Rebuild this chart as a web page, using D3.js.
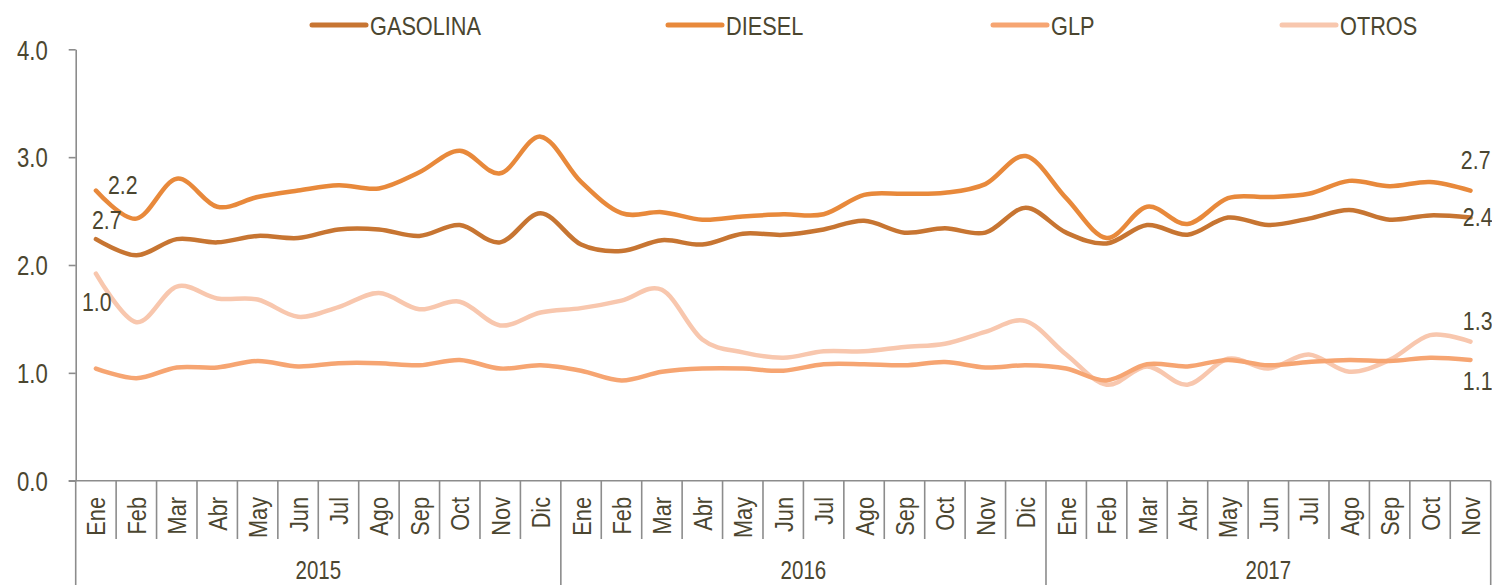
<!DOCTYPE html>
<html>
<head>
<meta charset="utf-8">
<script src="https://cdn.jsdelivr.net/npm/d3@7"></script>
<style>
  html, body { margin: 0; padding: 0; background: #ffffff; }
  svg { display: block; }
  text { font-family: "Liberation Sans", Arial, sans-serif; fill: #4b4630; }
</style>
</head>
<body>
<svg id="chart" width="1492" height="585"></svg>
<script>
const months = ["Ene","Feb","Mar","Abr","May","Jun","Jul","Ago","Sep","Oct","Nov","Dic",
                "Ene","Feb","Mar","Abr","May","Jun","Jul","Ago","Sep","Oct","Nov","Dic",
                "Ene","Feb","Mar","Abr","May","Jun","Jul","Ago","Sep","Oct","Nov"];
const years = ["2015","2016","2017"];
const yearStart = [0, 12, 24];
const yearEnd = [12, 24, 35];
const seriesNames = ["GASOLINA","DIESEL","GLP","OTROS"];
const seriesColors = ["#c77532","#e8893b","#f6a572","#f8c7ae"];
const gasolina = [2.24,2.09,2.24,2.21,2.27,2.25,2.33,2.33,2.27,2.37,2.21,2.48,
                  2.19,2.13,2.23,2.19,2.29,2.28,2.33,2.41,2.30,2.34,2.30,2.53,
                  2.30,2.20,2.37,2.28,2.44,2.37,2.43,2.51,2.42,2.46,2.44];
const diesel =   [2.69,2.43,2.80,2.54,2.63,2.69,2.74,2.71,2.86,3.06,2.85,3.19,
                  2.77,2.48,2.49,2.42,2.45,2.47,2.47,2.65,2.66,2.67,2.75,3.01,
                  2.62,2.25,2.54,2.38,2.62,2.63,2.66,2.78,2.73,2.77,2.69];
const glp =      [1.04,0.95,1.05,1.05,1.11,1.06,1.09,1.09,1.07,1.12,1.04,1.07,
                  1.02,0.93,1.01,1.04,1.04,1.02,1.08,1.08,1.07,1.10,1.05,1.07,
                  1.04,0.93,1.08,1.06,1.12,1.07,1.10,1.12,1.11,1.14,1.12];
const otros =    [1.92,1.47,1.80,1.69,1.68,1.52,1.61,1.74,1.59,1.66,1.44,1.56,
                  1.60,1.67,1.77,1.31,1.19,1.14,1.20,1.20,1.24,1.27,1.38,1.48,
                  1.17,0.89,1.06,0.89,1.13,1.04,1.17,1.01,1.12,1.35,1.29];
const yTicks = [0,1,2,3,4];
// data labels: [series index, point index, text, dx, dy, anchor]
const dataLabels = [
  [1, 0, "2.2", 12, 3, "start"],
  [0, 0, "2.7", -4, -10, "start"],
  [3, 0, "1.0", -14, 37, "start"],
  [1, 34, "2.7", 20, -22, "end"],
  [0, 34, "2.4", 22, 8, "end"],
  [3, 34, "1.3", 22, -12, "end"],
  [2, 34, "1.1", 22, 30, "end"]
];

(function () {
const series = [gasolina, diesel, glp, otros];
const svg = d3.select("#chart");
const axisColor = "#8c8c8c";
const narrow = 0.82; // emulate a condensed face

const pLeft = 75.7, pRight = 1490.7, pTop = 49.3, pBottom = 480.7;
const x = d3.scaleBand().domain(d3.range(months.length)).range([pLeft, pRight]).padding(0);
const y = d3.scaleLinear().domain([0, 4]).range([pBottom, pTop]);

// Y axis
const yAxis = svg.append("g").attr("transform", `translate(${pLeft},0)`)
  .call(d3.axisLeft(y).tickValues(yTicks).tickFormat(d3.format(".1f")).tickSize(7).tickSizeOuter(0));
yAxis.select(".domain").attr("stroke", axisColor).attr("stroke-width", 1.6);
yAxis.selectAll(".tick line").attr("stroke", axisColor).attr("stroke-width", 1.6);
yAxis.selectAll(".tick text").attr("x", 0).attr("dy", "0.36em")
  .attr("transform", `translate(-28,0) scale(${narrow},1)`)
  .attr("font-size", 27).attr("font-family", '"Liberation Sans", Arial, sans-serif').attr("fill", "#4b4630");

// X axis baseline
svg.append("line").attr("x1", pLeft - 7).attr("x2", pRight).attr("y1", pBottom).attr("y2", pBottom)
  .attr("stroke", axisColor).attr("stroke-width", 1.6);

// month separators
const edges = d3.range(months.length + 1);
svg.append("g").selectAll("line").data(edges).join("line")
  .attr("x1", i => i < months.length ? x(i) : pRight)
  .attr("x2", i => i < months.length ? x(i) : pRight)
  .attr("y1", pBottom)
  .attr("y2", i => (yearStart.includes(i) || i === months.length) ? 585 : 539)
  .attr("stroke", axisColor).attr("stroke-width", 1.6);

// month labels
svg.append("g").selectAll("text").data(months).join("text")
  .attr("transform", (d, i) => `translate(${x(i) + x.bandwidth() / 2},497) rotate(-90) scale(${narrow},1)`)
  .attr("text-anchor", "end").attr("dy", "0.36em")
  .attr("font-size", 26.5).text(d => d);

// year labels
svg.append("g").selectAll("text").data(years).join("text")
  .attr("transform", (d, i) => `translate(${(x(yearStart[i]) + (yearEnd[i] < months.length ? x(yearEnd[i]) : pRight)) / 2},579) scale(${narrow},1)`)
  .attr("text-anchor", "middle").attr("font-size", 25).text(d => d);

// lines
const line = d3.line().x((d, i) => x(i) + x.bandwidth() / 2).y(d => y(d)).curve(d3.curveCardinal.tension(0));
svg.append("g").selectAll("path").data([3, 2, 0, 1]).join("path")
  .attr("d", k => line(series[k]))
  .attr("fill", "none").attr("stroke", k => seriesColors[k])
  .attr("stroke-width", 4.5).attr("stroke-linejoin", "round").attr("stroke-linecap", "round");

// data labels
svg.append("g").selectAll("text").data(dataLabels).join("text")
  .attr("transform", d => `translate(${x(d[1]) + x.bandwidth() / 2 + d[3]},${y(series[d[0]][d[1]]) + d[4]}) scale(${narrow},1)`)
  .attr("text-anchor", d => d[5]).attr("font-size", 26).text(d => d[2]);

// legend
const legendX = [312, 668, 993, 1282];
const lg = svg.append("g").selectAll("g").data(seriesNames).join("g")
  .attr("transform", (d, i) => `translate(${legendX[i]},25)`);
lg.append("line").attr("x1", 0).attr("x2", 54).attr("y1", 0).attr("y2", 0)
  .attr("stroke", (d, i) => seriesColors[i]).attr("stroke-width", 5).attr("stroke-linecap", "round");
lg.append("text").attr("transform", `translate(58,9.5) scale(${narrow},1)`).attr("font-size", 26.5).text(d => d);
})();
</script>
</body>
</html>
